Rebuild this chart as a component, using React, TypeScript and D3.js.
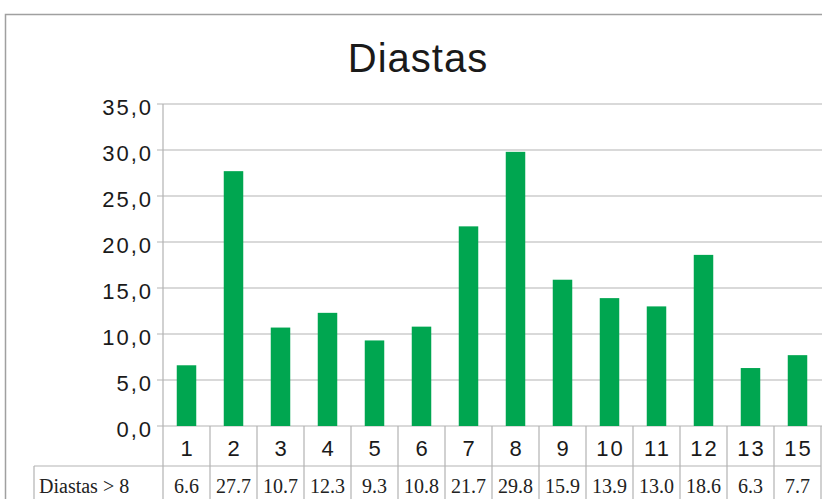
import React, { useRef, useEffect } from "react";
import * as d3 from "d3";

const categories = ["1", "2", "3", "4", "5", "6", "7", "8", "9", "10", "11", "12", "13", "15"];
const values = [6.6, 27.7, 10.7, 12.3, 9.3, 10.8, 21.7, 29.8, 15.9, 13.9, 13.0, 18.6, 6.3, 7.7];
const yTicks = [0, 5, 10, 15, 20, 25, 30, 35];
const seriesName = "Diastas > 8";
const title = "Diastas";

const App = () => {
  const ref = useRef<SVGSVGElement>(null);

  useEffect(() => {
    const svg = d3.select(ref.current);
    svg.selectAll("*").remove();

    const left = 163;
    const right = 821;
    const top = 104;
    const bottom = 426;
    const catRow = 466;
    const grid = "#b3b3b3";
    const sans = "'Liberation Sans', Arial, sans-serif";
    const serif = "'Liberation Serif', 'Times New Roman', serif";

    // outer frame
    svg.append("path")
      .attr("d", "M5.5,499 L5.5,14.5 L822,14.5")
      .attr("fill", "none")
      .attr("stroke", "#a0a0a0")
      .attr("stroke-width", 1.5);

    svg.append("text")
      .attr("x", 418)
      .attr("y", 72)
      .attr("text-anchor", "middle")
      .attr("font-family", sans)
      .attr("font-size", 40)
      .attr("letter-spacing", 1)
      .attr("fill", "#1a1a1a")
      .text(title);

    const x = d3.scaleBand().domain(categories).range([left, right]);
    const y = d3.scaleLinear().domain([0, 35]).range([bottom, top]);

    // gridlines + ticks
    svg.append("g")
      .selectAll("line")
      .data(yTicks)
      .enter()
      .append("line")
      .attr("x1", left - 6)
      .attr("x2", right + 2)
      .attr("y1", (d) => y(d))
      .attr("y2", (d) => y(d))
      .attr("stroke", grid)
      .attr("stroke-width", 1.2);

    svg.append("g")
      .selectAll("text")
      .data(yTicks)
      .enter()
      .append("text")
      .attr("x", 153)
      .attr("y", (d) => y(d) + 11)
      .attr("text-anchor", "end")
      .attr("font-family", sans)
      .attr("font-size", 22)
      .attr("letter-spacing", 2)
      .attr("fill", "#1a1a1a")
      .text((d) => d3.format(".1f")(d).replace(".", ","));

    // bars
    const barW = 19.5;
    svg.append("g")
      .selectAll("rect")
      .data(values)
      .enter()
      .append("rect")
      .attr("x", (d, i) => x(categories[i])! + x.bandwidth() / 2 - barW / 2)
      .attr("width", barW)
      .attr("y", (d) => y(d))
      .attr("height", (d) => bottom - y(d))
      .attr("fill", "#00a650");

    // y axis line
    svg.append("line")
      .attr("x1", left)
      .attr("x2", left)
      .attr("y1", top)
      .attr("y2", 499)
      .attr("stroke", grid)
      .attr("stroke-width", 1.2);

    // table cell separators
    const edges = categories.map((c) => x(c)! + x.bandwidth());
    svg.append("g")
      .selectAll("line")
      .data(edges)
      .enter()
      .append("line")
      .attr("x1", (d) => d)
      .attr("x2", (d) => d)
      .attr("y1", bottom)
      .attr("y2", 499)
      .attr("stroke", grid)
      .attr("stroke-width", 1.2);

    svg.append("line")
      .attr("x1", 34)
      .attr("x2", right)
      .attr("y1", catRow)
      .attr("y2", catRow)
      .attr("stroke", grid)
      .attr("stroke-width", 1.2);

    svg.append("line")
      .attr("x1", 34)
      .attr("x2", 34)
      .attr("y1", catRow)
      .attr("y2", 499)
      .attr("stroke", grid)
      .attr("stroke-width", 1.2);

    // category labels
    svg.append("g")
      .selectAll("text")
      .data(categories)
      .enter()
      .append("text")
      .attr("x", (d) => x(d)! + x.bandwidth() / 2 + 1)
      .attr("y", 456)
      .attr("text-anchor", "middle")
      .attr("font-family", sans)
      .attr("font-size", 22)
      .attr("letter-spacing", 2)
      .attr("fill", "#1a1a1a")
      .text((d) => d);

    // data table row
    svg.append("text")
      .attr("x", 39)
      .attr("y", 493)
      .attr("font-family", serif)
      .attr("font-size", 20)
      .attr("fill", "#222")
      .text(seriesName);

    svg.append("g")
      .selectAll("text")
      .data(values)
      .enter()
      .append("text")
      .attr("x", (d, i) => x(categories[i])! + x.bandwidth() / 2)
      .attr("y", 493)
      .attr("text-anchor", "middle")
      .attr("font-family", serif)
      .attr("font-size", 20)
      .attr("fill", "#222")
      .text((d) => d.toFixed(1));
  }, []);

  return (
    <div style={{ position: "fixed", left: 0, top: 0 }}>
      <svg ref={ref} width={822} height={499} style={{ display: "block", background: "#fff" }}></svg>
    </div>
  );
};

export default App;
